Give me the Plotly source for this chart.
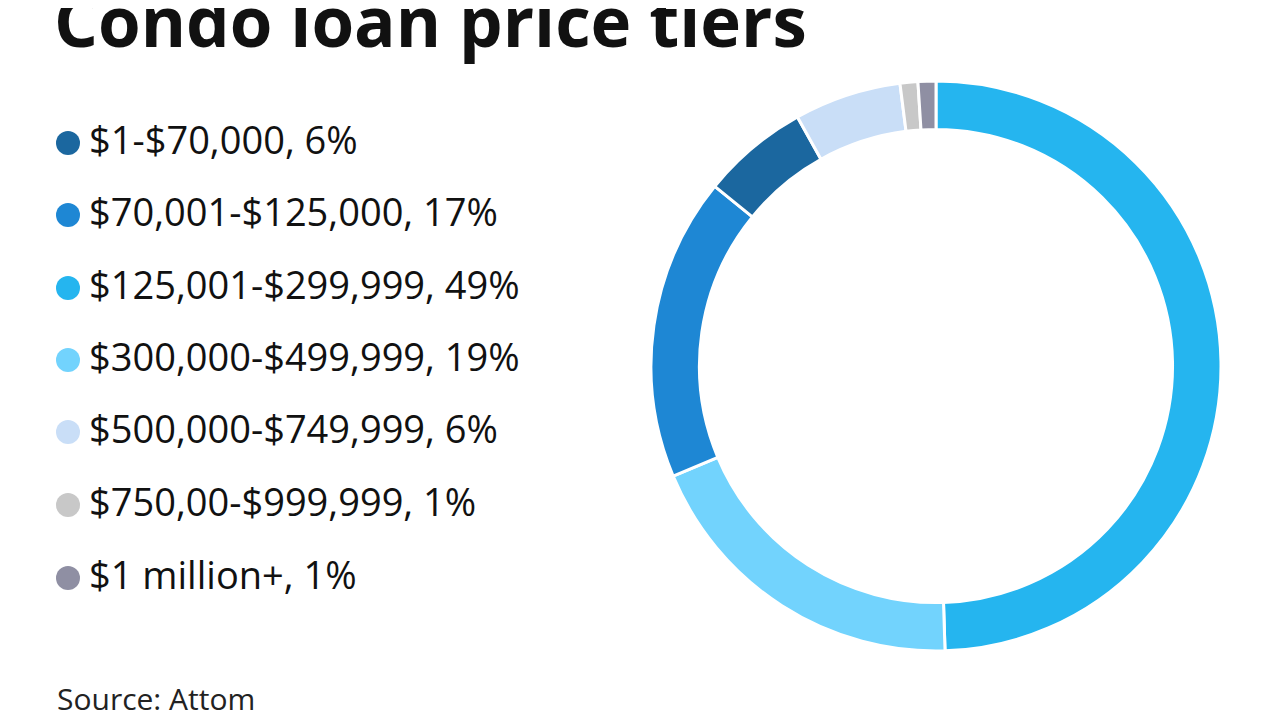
import plotly.graph_objects as go

labels = ["$1-$70,000, 6%", "$70,001-$125,000, 17%", "$125,001-$299,999, 49%",
          "$300,000-$499,999, 19%", "$500,000-$749,999, 6%", "$750,00-$999,999, 1%",
          "$1 million+, 1%"]
values = [6, 17, 49, 19, 6, 1, 1]
colors = ["#1b679f", "#1e87d4", "#25b5ef", "#72d3fd", "#c9def7", "#c8c8c8", "#8f8fa3"]
slice_order = [2, 3, 1, 0, 4, 5, 6]

W, H = 1280, 720
dx, dy = 8, 8
def px(x): return (x - dx) / W
def py(y): return 1 - (y - dy) / H

fig = go.Figure(go.Pie(
    labels=[labels[i] for i in slice_order],
    values=[values[i] for i in slice_order],
    marker=dict(colors=[colors[i] for i in slice_order], line=dict(color="white", width=3)),
    hole=0.83, sort=False, direction="clockwise", rotation=0,
    textinfo="none", hoverinfo="label",
    domain=dict(x=[px(651), px(1221)], y=[py(651), py(81)]),
))

ann = [dict(text="<b>Condo loan price tiers</b>", x=px(52), y=py(20), xref="paper", yref="paper",
            xanchor="left", yanchor="middle", showarrow=False,
            font=dict(family="Open Sans", size=69, color="#111"))]
shapes = []
ys = [139, 211, 284, 356, 428, 501, 574]
dot_ys = [143, 215, 288, 360, 432, 505, 578]
for lab, c, y, dyy in zip(labels, colors, ys, dot_ys):
    ann.append(dict(text=lab, x=px(87), y=py(y), xref="paper", yref="paper",
                    xanchor="left", yanchor="middle", showarrow=False,
                    font=dict(family="Open Sans", size=38, color="#111")))
    shapes.append(dict(type="circle", xref="paper", yref="paper", fillcolor=c, line=dict(width=0),
                       x0=px(56), x1=px(80), y0=py(dyy + 12), y1=py(dyy - 12)))
ann.append(dict(text="Source: Attom", x=px(55), y=py(698), xref="paper", yref="paper",
                xanchor="left", yanchor="middle", showarrow=False,
                font=dict(family="Open Sans", size=30, color="#222")))

fig.update_layout(width=W, height=H, margin=dict(l=0, r=0, t=0, b=0),
                  paper_bgcolor="white", showlegend=False, annotations=ann, shapes=shapes)
fig.write_html("out.html")
